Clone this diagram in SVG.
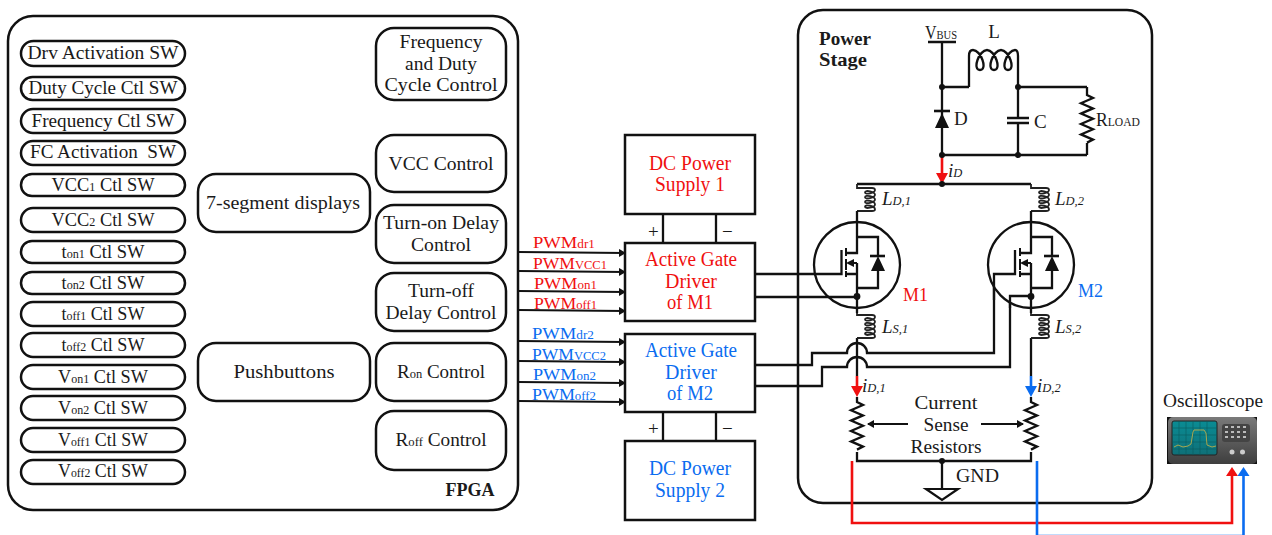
<svg xmlns="http://www.w3.org/2000/svg" width="1272" height="535" viewBox="0 0 1272 535">
<style>
text{font-family:"Liberation Serif","Times New Roman",serif;font-size:19px;fill:#1a1a1a;text-anchor:middle}
.s{font-size:12.5px}
.box{fill:#fff;stroke:#111;stroke-width:2.5}
.w{fill:none;stroke:#111;stroke-width:2.3;stroke-linejoin:miter}
.w2{fill:none;stroke:#111;stroke-width:2}
.coil{fill:none;stroke:#222;stroke-width:1.8}
.red{fill:none;stroke:#f01010;stroke-width:2.6}
.blue{fill:none;stroke:#0a6cf0;stroke-width:2.6}
.r{fill:#f01010}
.b{fill:#0a6cf0}
.st{text-anchor:start}
.i{font-style:italic}
.bd{font-weight:bold}
.t20{font-size:20px}
.p{font-size:17.5px}
.dot{fill:#111}
.k{fill:#bbb}
</style>
<defs>
<marker id="ak" markerWidth="7" markerHeight="8" refX="6" refY="4" orient="auto" markerUnits="userSpaceOnUse"><path d="M0 0L7 4L0 8Z" fill="#111"/></marker>
<path id="cl" d="M0 0V4H15Q18 4 18 6c0,3 -10,5 -10,2.4c0,-3 10,-.6 10,2.4c0,3 -10,5 -10,2.4c0,-3 10,-.6 10,2.4c0,3 -10,5 -10,2.4c0,-3 10,-.6 10,2.4c0,3 -10,5 -10,2.4c0,-3 10,-.6 10,2.4Q18 27 15 27H0"/>
<path id="zz" d="M0 0V2l6 3l-12 5.2l12 5.2l-12 5.2l12 5.2l-12 5.2l12 5.2l-12 5.2l12 5.2l-6 3"/>
<g id="fet">
<circle cx="0" cy="0" r="43" fill="#fff" stroke="#111" stroke-width="2.3"/>
<path class="w" d="M0 -43V-12H-11M0 -2V48M-11 9H0M0 -28H21V-9M21 5V23H0"/>
<path class="w2" d="M-11 -17V-9M-11 -6V5M-11 6V12"/>
<path class="w2" d="M0 -2H-6"/>
<path d="M-11 -2L-3 -6V2Z" fill="#111"/>
<path d="M13 -9H28" stroke="#111" stroke-width="2.6"/>
<path d="M21 -9L14 6H28Z" fill="#111"/>
</g>
<linearGradient id="sc" x1="0" y1="0" x2="0" y2="1"><stop offset="0" stop-color="#7a7a7a"/><stop offset="1" stop-color="#3e3e3e"/></linearGradient>
<linearGradient id="scr" x1="0" y1="0" x2="0" y2="1"><stop offset="0" stop-color="#0a8c94"/><stop offset="1" stop-color="#0f7078"/></linearGradient>
</defs>

<g id="fpga">
<rect class="box" x="8" y="16" width="510" height="494" rx="25"/>
<text class="bd" x="470" y="496" textLength="49" lengthAdjust="spacingAndGlyphs">FPGA</text>
</g>
<g id="power-stage">
<rect class="box" x="798" y="10" width="354" height="493" rx="25"/>
<text class="bd" x="845" y="45" textLength="52" lengthAdjust="spacingAndGlyphs">Power</text>
<text class="bd" x="843" y="66" textLength="48" lengthAdjust="spacingAndGlyphs">Stage</text>
</g>

<g id="sw-drv"><rect class="box" x="21" y="41" width="164" height="25" rx="12.5"/><text x="103" y="59" textLength="151" lengthAdjust="spacingAndGlyphs">Drv Activation SW</text></g>
<g id="sw-duty"><rect class="box" x="21" y="77" width="164" height="23" rx="11.5"/><text x="103" y="94" textLength="149" lengthAdjust="spacingAndGlyphs">Duty Cycle Ctl SW</text></g>
<g id="sw-freq"><rect class="box" x="21" y="109" width="164" height="24" rx="12"/><text x="103" y="127" textLength="143" lengthAdjust="spacingAndGlyphs">Frequency Ctl SW</text></g>
<g id="sw-fc"><rect class="box" x="21" y="141" width="164" height="24" rx="12"/><text x="103" y="158" textLength="146" lengthAdjust="spacingAndGlyphs" xml:space="preserve">FC Activation  SW</text></g>
<g id="sw-vcc1"><rect class="box" x="21" y="174" width="164" height="22" rx="11"/><text x="103" y="191" textLength="103" lengthAdjust="spacingAndGlyphs">VCC<tspan class="s">1</tspan> Ctl SW</text></g>
<g id="sw-vcc2"><rect class="box" x="21" y="208" width="164" height="24" rx="12"/><text x="103" y="226" textLength="103" lengthAdjust="spacingAndGlyphs">VCC<tspan class="s">2</tspan> Ctl SW</text></g>
<g id="sw-ton1"><rect class="box" x="21" y="241" width="164" height="22" rx="11"/><text x="103" y="258" textLength="83" lengthAdjust="spacingAndGlyphs">t<tspan class="s">on1</tspan> Ctl SW</text></g>
<g id="sw-ton2"><rect class="box" x="21" y="272" width="164" height="22" rx="11"/><text x="103" y="289" textLength="83" lengthAdjust="spacingAndGlyphs">t<tspan class="s">on2</tspan> Ctl SW</text></g>
<g id="sw-toff1"><rect class="box" x="21" y="302" width="164" height="24" rx="12"/><text x="103" y="320" textLength="83" lengthAdjust="spacingAndGlyphs">t<tspan class="s">off1</tspan> Ctl SW</text></g>
<g id="sw-toff2"><rect class="box" x="21" y="333" width="164" height="24" rx="12"/><text x="103" y="351" textLength="83" lengthAdjust="spacingAndGlyphs">t<tspan class="s">off2</tspan> Ctl SW</text></g>
<g id="sw-von1"><rect class="box" x="21" y="365" width="164" height="24" rx="12"/><text x="103" y="383" textLength="90" lengthAdjust="spacingAndGlyphs">V<tspan class="s">on1</tspan> Ctl SW</text></g>
<g id="sw-von2"><rect class="box" x="21" y="396" width="164" height="24" rx="12"/><text x="103" y="414" textLength="90" lengthAdjust="spacingAndGlyphs">V<tspan class="s">on2</tspan> Ctl SW</text></g>
<g id="sw-voff1"><rect class="box" x="21" y="428" width="164" height="24" rx="12"/><text x="103" y="446" textLength="90" lengthAdjust="spacingAndGlyphs">V<tspan class="s">off1</tspan> Ctl SW</text></g>
<g id="sw-voff2"><rect class="box" x="21" y="460" width="164" height="24" rx="12"/><text x="103" y="477" textLength="90" lengthAdjust="spacingAndGlyphs">V<tspan class="s">off2</tspan> Ctl SW</text></g>

<g id="seven-seg"><rect class="box" x="198" y="174" width="172" height="58" rx="18"/><text x="283" y="209" textLength="154" lengthAdjust="spacingAndGlyphs">7-segment displays</text></g>
<g id="pushbuttons"><rect class="box" x="198" y="343" width="172" height="58" rx="18"/><text x="284" y="378" textLength="101" lengthAdjust="spacingAndGlyphs">Pushbuttons</text></g>

<g id="freq-duty"><rect class="box" x="376" y="28" width="130" height="72" rx="18"/><text x="441" y="48" textLength="83" lengthAdjust="spacingAndGlyphs">Frequency</text><text x="441" y="70" textLength="72" lengthAdjust="spacingAndGlyphs">and Duty</text><text x="441" y="91" textLength="113" lengthAdjust="spacingAndGlyphs">Cycle Control</text></g>
<g id="vcc-control"><rect class="box" x="376" y="135" width="130" height="57" rx="18"/><text x="441" y="170" textLength="105" lengthAdjust="spacingAndGlyphs">VCC Control</text></g>
<g id="turn-on"><rect class="box" x="376" y="205" width="130" height="58" rx="18"/><text x="441" y="229" textLength="116" lengthAdjust="spacingAndGlyphs">Turn-on Delay</text><text x="441" y="251" textLength="60" lengthAdjust="spacingAndGlyphs">Control</text></g>
<g id="turn-off"><rect class="box" x="376" y="273" width="130" height="58" rx="18"/><text x="441" y="297" textLength="66" lengthAdjust="spacingAndGlyphs">Turn-off</text><text x="441" y="319" textLength="111" lengthAdjust="spacingAndGlyphs">Delay Control</text></g>
<g id="ron"><rect class="box" x="376" y="343" width="130" height="58" rx="18"/><text x="441" y="378" textLength="88" lengthAdjust="spacingAndGlyphs">R<tspan class="s">on</tspan> Control</text></g>
<g id="roff"><rect class="box" x="376" y="411" width="130" height="59" rx="18"/><text x="441" y="446" textLength="91" lengthAdjust="spacingAndGlyphs">R<tspan class="s">off</tspan> Control</text></g>

<g id="connectors">
<path class="w" d="M663 214V243M716 214V243M663 412V441M716 412V441"/>
<g class="w2">
<path d="M518 252L625 253" marker-end="url(#ak)"/><path d="M518 271L625 272" marker-end="url(#ak)"/><path d="M518 291L625 292" marker-end="url(#ak)"/><path d="M518 310L625 311" marker-end="url(#ak)"/>
<path d="M518 341L625 342" marker-end="url(#ak)"/><path d="M518 361L625 362" marker-end="url(#ak)"/><path d="M518 382L625 383" marker-end="url(#ak)"/><path d="M518 401L625 402" marker-end="url(#ak)"/>
</g>
<path class="w" d="M755 365H812V353H847A10 10 0 0 1 867 353H994V274"/>
<path class="w" d="M755 386H822V367H847A10 10 0 0 1 867 367H1010V296"/>
<path class="w" d="M857 184H1031"/>
<path class="w" d="M942 42V155M928 42H956M942 87H969M1018 87H1087M942 155H1087M1018 87V155"/>
<path class="w" d="M969 87V56Q969 50 973 50c8,0 15,20 7,20c-8,0 -1,-20 7,-20c8,0 15,20 7,20c-8,0 -1,-20 7,-20c8,0 15,20 7,20c-8,0 -1,-20 7,-20Q1018 50 1018 56V87"/>
<path class="w" d="M1087 87V93M1087 143V155"/>
<use href="#zz" x="1087" y="93" class="w"/>
<path class="w" d="M857 338V376M1031 338V376M857 397V400M1031 397V400M857 452V461H1031V452"/>
<use href="#zz" x="857" y="400" class="w"/>
<use href="#zz" x="1031" y="400" class="w"/>
<path class="w" d="M942 461V489"/>
<path d="M926 489H958L942 500Z" fill="#fff" stroke="#111" stroke-width="2.2"/>
<path class="w2" d="M908 424H868" marker-end="url(#ak)"/>
<path class="w2" d="M981 424H1023" marker-end="url(#ak)"/>
<use href="#cl" x="857" y="184" class="coil"/>
<use href="#cl" x="1031" y="184" class="coil"/>
<use href="#cl" x="857" y="311" class="coil"/>
<use href="#cl" x="1031" y="311" class="coil"/>
<path class="w" d="M857 211V222M1031 211V222"/>
<path class="red" d="M942 155V176"/><path class="r" d="M936 173H948L942 184Z"/>
<path class="red" d="M857 376V388"/><path class="r" d="M851 386H863L857 397Z"/>
<path class="blue" d="M1031 376V388"/><path class="b" d="M1025 386H1037L1031 397Z"/>
<path class="red" d="M852 461V523H1232V474"/><path class="r" d="M1226 476H1238L1232 467Z"/>
<path class="blue" d="M1037 461V536H1243.500V474"/><path class="b" d="M1237.500 476H1249.500L1243.500 467Z"/>
</g>

<g id="psu1"><rect class="box" x="625" y="135" width="130" height="79"/><text x="690" y="170" class="t20 r" textLength="82" lengthAdjust="spacingAndGlyphs">DC Power</text><text x="690" y="191" class="t20 r" textLength="70" lengthAdjust="spacingAndGlyphs">Supply 1</text></g>
<g id="psu2"><rect class="box" x="625" y="441" width="130" height="79"/><text x="690" y="475" class="t20 b" textLength="82" lengthAdjust="spacingAndGlyphs">DC Power</text><text x="690" y="497" class="t20 b" textLength="70" lengthAdjust="spacingAndGlyphs">Supply 2</text></g>
<g id="driver1"><rect class="box" x="625" y="243" width="130" height="78"/><text x="691" y="266" class="t20 r" textLength="92" lengthAdjust="spacingAndGlyphs">Active Gate</text><text x="691" y="288" class="t20 r" textLength="52" lengthAdjust="spacingAndGlyphs">Driver</text><text x="690" y="309" class="t20 r" textLength="46" lengthAdjust="spacingAndGlyphs">of M1</text></g>
<g id="driver2"><rect class="box" x="625" y="334" width="130" height="78"/><text x="691" y="357" class="t20 b" textLength="92" lengthAdjust="spacingAndGlyphs">Active Gate</text><text x="691" y="379" class="t20 b" textLength="52" lengthAdjust="spacingAndGlyphs">Driver</text><text x="690" y="400" class="t20 b" textLength="46" lengthAdjust="spacingAndGlyphs">of M2</text></g>

<g id="m1"><use href="#fet" x="857" y="265"/><path class="w" d="M841.500 250V274H755M755 297H857"/><circle class="dot" cx="857" cy="296.500" r="3.400"/></g>
<g id="m2"><use href="#fet" x="1031" y="265"/><path class="w" d="M1015 250V274H994V300M1010 308V296H1031"/><circle class="dot" cx="1031" cy="296.500" r="3.400"/></g>

<g id="junctions">
<circle class="dot" cx="942" cy="87" r="3"/><circle class="dot" cx="942" cy="155" r="3"/><circle class="dot" cx="1018" cy="87" r="3"/><circle class="dot" cx="1018" cy="155" r="3"/><circle class="dot" cx="942" cy="184" r="3"/><circle class="dot" cx="942" cy="461" r="3"/>
</g>
<g id="diode-d"><path d="M934 111H950" stroke="#111" stroke-width="2.600"/><path d="M942 113L935 128H949Z" fill="#111"/></g>
<g id="cap-c"><rect x="1006" y="119" width="24" height="3.500" fill="#fff"/><path d="M1007 118H1029M1007 123H1029" stroke="#111" stroke-width="2.400"/></g>

<g id="scope">
<rect x="1167" y="417" width="90" height="47" fill="#111"/>
<rect x="1168" y="417" width="89" height="47" rx="5" fill="url(#sc)"/>
<rect x="1172" y="421" width="45" height="34" rx="2" fill="url(#scr)" stroke="#222" stroke-width="1"/>
<path d="M1179 421V455M1186 421V455M1193 421V455M1200 421V455M1207 421V455M1172 428H1217M1172 435H1217M1172 442H1217M1172 449H1217" stroke="#0a5a60" stroke-width=".6"/>
<path d="M1174 447L1178 445L1183 447L1188 446L1191 444L1193 432Q1193 429 1197 430L1204 430L1206 433L1207 445L1212 447L1216 446" fill="none" stroke="#a8a850" stroke-width="1"/>
<rect x="1222" y="424" width="28" height="18" rx="3" fill="#444"/>
<g class="k"><rect x="1225" y="426" width="3" height="2"/><rect x="1231" y="426" width="3" height="2"/><rect x="1237" y="426" width="3" height="2"/><rect x="1243" y="426" width="3" height="2"/><rect x="1225" y="431" width="3" height="2"/><rect x="1231" y="431" width="3" height="2"/><rect x="1237" y="431" width="3" height="2"/><rect x="1243" y="431" width="3" height="2"/><rect x="1225" y="436" width="3" height="2"/><rect x="1231" y="436" width="3" height="2"/><rect x="1237" y="436" width="3" height="2"/><rect x="1243" y="436" width="3" height="2"/></g>
<circle cx="1232" cy="452" r="2.500" fill="#ccc"/><circle cx="1242.500" cy="452" r="2.500" fill="#ccc"/>
</g>

<g id="labels">
<text class="st" x="925" y="39" textLength="32" lengthAdjust="spacingAndGlyphs">V<tspan class="s">BUS</tspan></text>
<text x="994" y="38">L</text>
<text class="st" x="954" y="125">D</text>
<text class="st" x="1034" y="128">C</text>
<text class="st" x="1096" y="126" textLength="44" lengthAdjust="spacingAndGlyphs">R<tspan class="s">LOAD</tspan></text>
<text class="st i" x="948" y="177">i<tspan class="s">D</tspan></text>
<text class="st i" x="882" y="205">L<tspan class="s">D,1</tspan></text>
<text class="st i" x="1055" y="205">L<tspan class="s">D,2</tspan></text>
<text class="st i" x="882" y="333">L<tspan class="s">S,1</tspan></text>
<text class="st i" x="1055" y="333">L<tspan class="s">S,2</tspan></text>
<text class="st r" x="903" y="301" textLength="25" lengthAdjust="spacingAndGlyphs">M1</text>
<text class="st b" x="1078" y="297" textLength="25" lengthAdjust="spacingAndGlyphs">M2</text>
<text class="st i" x="862" y="392">i<tspan class="s">D,1</tspan></text>
<text class="st i" x="1037" y="392">i<tspan class="s">D,2</tspan></text>
<text x="946" y="409" textLength="63" lengthAdjust="spacingAndGlyphs">Current</text>
<text x="946" y="431" textLength="45" lengthAdjust="spacingAndGlyphs">Sense</text>
<text x="946" y="453" textLength="71" lengthAdjust="spacingAndGlyphs">Resistors</text>
<text class="st" x="956" y="482" textLength="43" lengthAdjust="spacingAndGlyphs">GND</text>
<text x="1213" y="407" textLength="100" lengthAdjust="spacingAndGlyphs">Oscilloscope</text>
<text class="st" x="648" y="238">+</text><text class="st" x="722" y="238">−</text>
<text class="st" x="648" y="435">+</text><text class="st" x="722" y="435">−</text>
<text class="st r p" x="533" y="248" textLength="62" lengthAdjust="spacingAndGlyphs">PWM<tspan class="s">dr1</tspan></text>
<text class="st r p" x="533" y="269" textLength="74" lengthAdjust="spacingAndGlyphs">PWM<tspan class="s">VCC1</tspan></text>
<text class="st r p" x="534" y="289" textLength="63" lengthAdjust="spacingAndGlyphs">PWM<tspan class="s">on1</tspan></text>
<text class="st r p" x="534" y="309" textLength="63" lengthAdjust="spacingAndGlyphs">PWM<tspan class="s">off1</tspan></text>
<text class="st b p" x="532" y="339" textLength="62" lengthAdjust="spacingAndGlyphs">PWM<tspan class="s">dr2</tspan></text>
<text class="st b p" x="532" y="360" textLength="74" lengthAdjust="spacingAndGlyphs">PWM<tspan class="s">VCC2</tspan></text>
<text class="st b p" x="533" y="380" textLength="63" lengthAdjust="spacingAndGlyphs">PWM<tspan class="s">on2</tspan></text>
<text class="st b p" x="532" y="400" textLength="64" lengthAdjust="spacingAndGlyphs">PWM<tspan class="s">off2</tspan></text>
</g>
</svg>
